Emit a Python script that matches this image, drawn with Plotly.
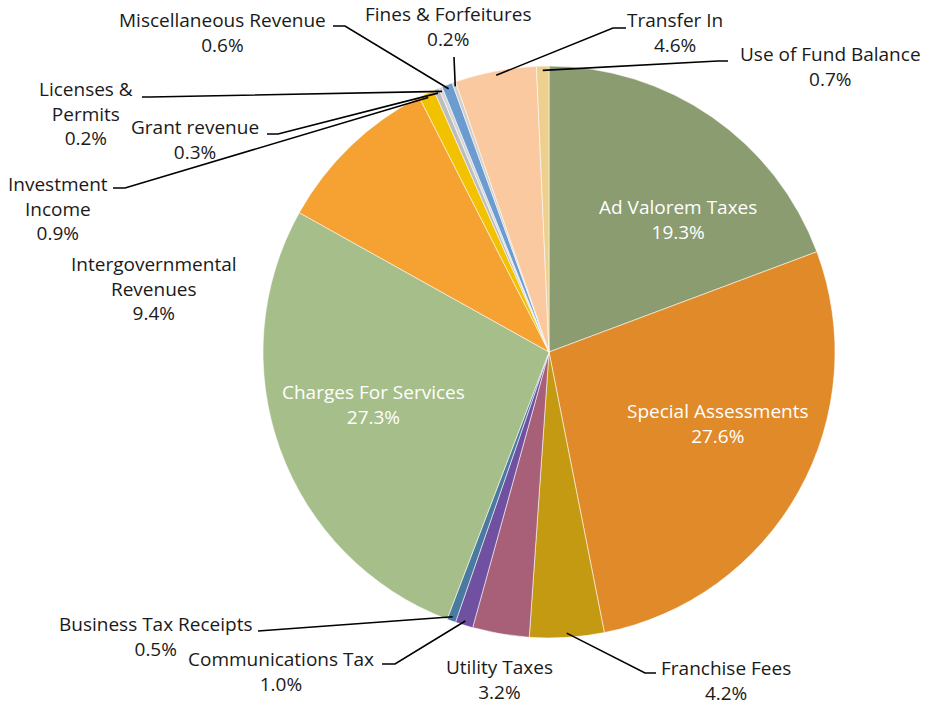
import math
import plotly.graph_objects as go

# ---- data ----
categories = ["Ad Valorem Taxes", "Special Assessments", "Franchise Fees", "Utility Taxes",
              "Communications Tax", "Business Tax Receipts", "Charges For Services",
              "Intergovernmental Revenues", "Investment Income", "Grant revenue",
              "Licenses & Permits", "Miscellaneous Revenue", "Fines & Forfeitures",
              "Transfer In", "Use of Fund Balance"]
values = [19.3, 27.6, 4.2, 3.2, 1.0, 0.5, 27.3, 9.4, 0.9, 0.3, 0.2, 0.6, 0.2, 4.6, 0.7]
label_text = ["Ad Valorem Taxes", "Special Assessments", "Franchise Fees", "Utility Taxes",
              "Communications Tax", "Business Tax Receipts", "Charges For Services",
              "Intergovernmental<br>Revenues", "Investment<br>Income", "Grant revenue",
              "Licenses &<br>Permits", "Miscellaneous Revenue", "Fines & Forfeitures",
              "Transfer In", "Use of Fund Balance"]

# ---- styles ----
colors = ["#8A9C70", "#E08A2A", "#C49A12", "#A86078", "#7050A0", "#4A7AA0", "#A6BE8A",
          "#F5A232", "#F2C200", "#BDBDBD", "#D6D6D6", "#6C9BD0", "#CFCFCF", "#FAC9A0", "#EDD090"]

W, H = 930, 706
CX, CY, R = 549, 352, 286

# label centre positions in pixels (x, y of block centre) and text colour
label_pos = {
    "Ad Valorem Taxes": (678, 219, "white"),
    "Special Assessments": (718, 423, "white"),
    "Charges For Services": (373, 404, "white"),
    "Franchise Fees": (726, 680, "#1a1a1a"),
    "Utility Taxes": (500, 679, "#1a1a1a"),
    "Communications Tax": (281, 671, "#1a1a1a"),
    "Business Tax Receipts": (155, 636, "#1a1a1a"),
    "Intergovernmental Revenues": (154, 288, "#1a1a1a"),
    "Investment Income": (58, 208, "#1a1a1a"),
    "Grant revenue": (195, 140, "#1a1a1a"),
    "Licenses & Permits": (86, 113, "#1a1a1a"),
    "Miscellaneous Revenue": (222, 32, "#1a1a1a"),
    "Fines & Forfeitures": (448, 27, "#1a1a1a"),
    "Transfer In": (675, 33, "#1a1a1a"),
    "Use of Fund Balance": (830, 67, "#1a1a1a"),
}
# leader line start + elbow points (pixels); end point is computed from the data
leader = {
    "Franchise Fees": [(656, 673), (645, 673)],
    "Communications Tax": [(382, 664), (395, 664)],
    "Business Tax Receipts": [(258, 631)],
    "Investment Income": [(113, 188), (125, 188)],
    "Grant revenue": [(267, 134), (278, 134)],
    "Licenses & Permits": [(142, 97), (150, 97)],
    "Miscellaneous Revenue": [(333, 26), (345, 26)],
    "Fines & Forfeitures": [(454, 57)],
    "Transfer In": [(626, 28), (613, 28)],
    "Use of Fund Balance": [(728, 61), (718, 61)],
}

def px(x):
    return x / W

def py(y):
    return 1 - y / H

fig = go.Figure()
fig.add_trace(go.Pie(
    labels=categories, values=values, sort=False, direction="clockwise", rotation=0,
    marker=dict(colors=colors, line=dict(color="rgba(255,255,255,0.55)", width=1)),
    textinfo="none", hoverinfo="label+percent", showlegend=False,
    domain=dict(x=[px(CX - R), px(CX + R)], y=[py(CY + R), py(CY - R)]),
))

total = sum(values)
cum = 0.0
annotations = []
shapes = []
for name, v, txt in zip(categories, values, label_text):
    mid = (cum + v / 2) / total
    cum += v
    ang = 2 * math.pi * mid
    ex = CX + R * 0.985 * math.sin(ang)
    ey = CY - R * 0.985 * math.cos(ang)
    lx, ly, col = label_pos[name]
    annotations.append(dict(
        x=px(lx), y=py(ly), xref="paper", yref="paper", showarrow=False,
        text=f"{txt}<br>{v:.1f}%", xanchor="center", yanchor="middle", align="center",
        font=dict(family="Open Sans, sans-serif", size=19, color=col)))
    if name in leader:
        pts = leader[name] + [(ex, ey)]
        path = "M " + " L ".join(f"{px(a):.5f},{py(b):.5f}" for a, b in pts)
        shapes.append(dict(type="path", path=path, xref="paper", yref="paper",
                           line=dict(color="black", width=1.6), layer="above"))

fig.update_layout(
    width=W, height=H, margin=dict(l=0, r=0, t=0, b=0),
    paper_bgcolor="white", plot_bgcolor="white",
    annotations=annotations, shapes=shapes,
)
fig.write_html("out.html")
